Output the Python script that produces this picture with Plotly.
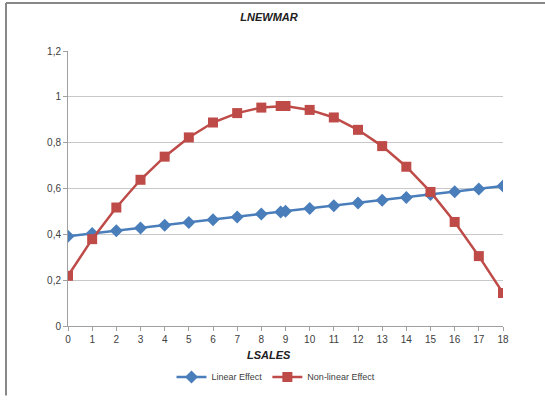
import plotly.graph_objects as go

lsales = [0, 1, 2, 3, 4, 5, 6, 7, 8, 8.8, 9, 10, 11, 12, 13, 14, 15, 16, 17, 18]
linear_effect = [0.392, 0.404, 0.416, 0.428, 0.440, 0.452, 0.464, 0.476, 0.489, 0.498, 0.501,
                 0.513, 0.525, 0.537, 0.549, 0.561, 0.574, 0.586, 0.598, 0.611]
nonlinear_effect = [0.219, 0.379, 0.517, 0.638, 0.739, 0.823, 0.888, 0.929, 0.953, 0.960, 0.960,
                    0.943, 0.910, 0.856, 0.785, 0.695, 0.585, 0.454, 0.305, 0.144]
x_ticks = list(range(0, 19))
y_ticks = [0, 0.2, 0.4, 0.6, 0.8, 1.0, 1.2]
y_tick_labels = ["0", "0,2", "0,4", "0,6", "0,8", "1", "1,2"]

W, H = 545, 403
L, R, T, B = 68, 42, 51, 71
pw, ph = W - L - R, H - T - B

fig = go.Figure()
fig.add_trace(go.Scatter(
    x=lsales, y=linear_effect, name="Linear Effect", mode="lines+markers",
    line=dict(color="#4A7EBB", width=2.5),
    marker=dict(symbol="diamond", size=10, color="#4A7EBB")))
fig.add_trace(go.Scatter(
    x=lsales, y=nonlinear_effect, name="Non-linear Effect", mode="lines+markers",
    line=dict(color="#BE4B48", width=2.5),
    marker=dict(symbol="square", size=10, color="#BE4B48")))

fig.update_layout(
    width=W, height=H,
    margin=dict(l=L, r=R, t=T, b=B),
    paper_bgcolor="white", plot_bgcolor="white",
    font=dict(family="Liberation Sans, Arial", size=10, color="#404040"),
    title=dict(text="<b><i>LNEWMAR</i></b>", x=269 / W, xanchor="center",
               y=1 - 17 / H, yanchor="middle", yref="container",
               font=dict(size=11, color="#202020")),
    showlegend=True,
    legend=dict(orientation="h", x=(276 - L) / pw, xanchor="center",
                y=(H - B - 384) / ph, yanchor="middle",
                font=dict(size=9, color="#404040"), itemwidth=30,
                tracegroupgap=0, bgcolor="rgba(0,0,0,0)"),
    xaxis=dict(range=[0, 18], tickvals=x_ticks, ticktext=[str(v) for v in x_ticks],
               showgrid=False, zeroline=False, showline=True, linecolor="#A0A0A0",
               linewidth=1, ticks="outside", ticklen=4, tickcolor="#A0A0A0",
               tickfont=dict(size=10, color="#404040")),
    yaxis=dict(range=[0, 1.2], tickvals=y_ticks, ticktext=y_tick_labels,
               showgrid=True, gridcolor="#C8C8C8", gridwidth=1, zeroline=False,
               showline=True, linecolor="#A0A0A0", linewidth=1,
               ticks="outside", ticklen=4, tickcolor="#A0A0A0",
               tickfont=dict(size=10, color="#404040")),
)

fig.add_annotation(text="<b><i>LSALES</i></b>", xref="paper", yref="paper",
                   x=(269 - L) / pw, y=(H - B - 362) / ph, showarrow=False,
                   xanchor="center", yanchor="middle",
                   font=dict(size=11, color="#202020"))

# outer frame (left and top edges)
fig.add_shape(type="line", xref="paper", yref="paper",
              x0=(6 - L) / pw, x1=(6 - L) / pw, y0=(H - B - H) / ph, y1=(H - B - 2) / ph,
              line=dict(color="#888888", width=2))
fig.add_shape(type="line", xref="paper", yref="paper",
              x0=(6 - L) / pw, x1=(W - L) / pw, y0=(H - B - 2) / ph, y1=(H - B - 2) / ph,
              line=dict(color="#888888", width=2))

fig.write_html("out.html")
